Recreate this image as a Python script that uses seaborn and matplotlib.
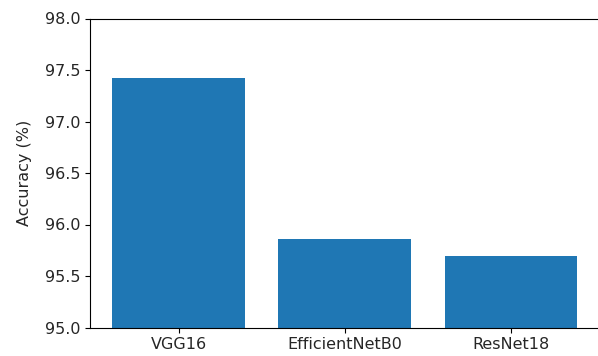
import matplotlib
matplotlib.use("Agg")
import matplotlib.pyplot as plt
import seaborn as sns
import pandas as pd

models = ["VGG16", "EfficientNetB0", "ResNet18"]
accuracy = [97.42, 95.86, 95.69]
y_ticks = [95.0, 95.5, 96.0, 96.5, 97.0, 97.5, 98.0]

df = pd.DataFrame({"model": models, "accuracy": accuracy})

plt.rcParams["font.size"] = 11.5

W, H = 598, 356
fig = plt.figure(figsize=(W / 100, H / 100), dpi=100)
# the plot area runs past the right edge of the canvas
left, right, top, bottom = 90, 608, 18.5, 327.5
ax = fig.add_axes([left / W, (H - bottom) / H, (right - left) / W, (bottom - top) / H])

sns.barplot(data=df, x="model", y="accuracy", color="#1f77b4", saturation=1,
            width=0.8, errorbar=None, ax=ax)

ax.set_ylim(95.0, 98.0)
ax.set_yticks(y_ticks)
ax.set_yticklabels([f"{t:.1f}" for t in y_ticks])
ax.set_xlim(-0.534, 2.584)
ax.set_xlabel("")
ax.set_ylabel("Accuracy (%)", labelpad=9)
ax.spines["right"].set_visible(False)
ax.tick_params(labelcolor="#262626")
ax.yaxis.label.set_color("#262626")

fig.savefig("out.png", dpi=100)
